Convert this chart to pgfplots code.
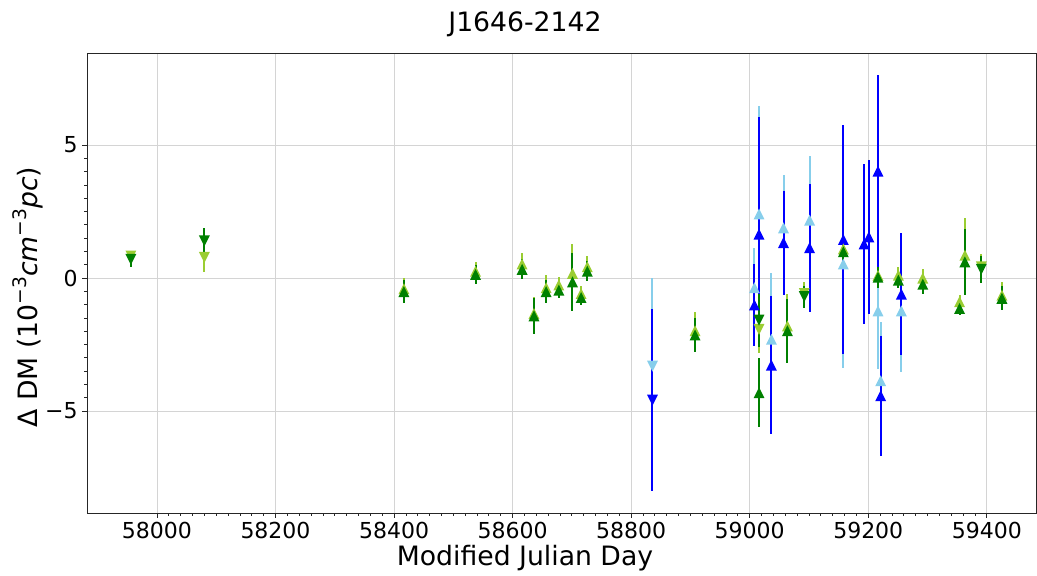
\documentclass[border=0pt]{standalone}
\usepackage{fontspec}
\setmainfont{DejaVu Sans}
\usepackage{pgfplots}
\pgfplotsset{compat=1.18}
\definecolor{mpgreen}{RGB}{0,128,0}
\definecolor{mpyg}{RGB}{154,205,50}
\definecolor{mpsky}{RGB}{135,206,235}
\definecolor{mpblue}{RGB}{0,0,255}
\pgfdeclareplotmark{tup}{%
  \pgfpathmoveto{\pgfpoint{0pt}{\pgfplotmarksize}}%
  \pgfpathlineto{\pgfpoint{-\pgfplotmarksize}{-\pgfplotmarksize}}%
  \pgfpathlineto{\pgfpoint{\pgfplotmarksize}{-\pgfplotmarksize}}%
  \pgfpathclose\pgfusepathqfill}
\pgfdeclareplotmark{tdown}{%
  \pgfpathmoveto{\pgfpoint{0pt}{-\pgfplotmarksize}}%
  \pgfpathlineto{\pgfpoint{-\pgfplotmarksize}{\pgfplotmarksize}}%
  \pgfpathlineto{\pgfpoint{\pgfplotmarksize}{\pgfplotmarksize}}%
  \pgfpathclose\pgfusepathqfill}
\pgfplotsset{ebar/.style={only marks, mark size=4.1pt,
  error bars/.cd, y dir=both, y explicit, error mark=none,
  error bar style={line width=1.5pt, solid}}}
\newcommand\sups[1]{\raisebox{0.8ex}{\fontsize{14}{14}\selectfont #1}}

\pgfplotstableread{
x y e
59008 -0.36 1.5
59015.7 2.41 4.06
59036.6 -2.3 2.5
59057 1.89 2.0
59101 2.18 2.4
59158 0.53 3.9
59216.4 -1.23 2.2
59221 -3.86 2.2
59255.8 -1.23 2.3
}\skyup
\pgfplotstableread{
x y e
58836 -3.31 3.3
}\skydown
\pgfplotstableread{
x y e
59008 -1.01 1.55
59015.7 1.65 4.4
59036.6 -3.27 2.6
59057 1.33 1.96
59101 1.14 2.4
59158 1.45 4.3
59192.8 1.28 3.0
59201 1.55 2.9
59216.4 4.02 3.6
59221 -4.42 2.25
59255.8 -0.6 2.3
}\blueup
\pgfplotstableread{
x y e
58836 -4.59 3.43
}\bluedown
\pgfplotstableread{
x y e
58416.6 -0.4 0.42
58537.5 0.26 0.36
58616 0.53 0.4
58636 -1.33 0.6
58656.6 -0.36 0.47
58678 -0.26 0.31
58701 0.18 1.1
58715.6 -0.58 0.3
58726 0.43 0.4
58907.8 -1.98 0.7
59063.6 -1.8 1.2
59158 1.1 0.3
59216.4 0.1 0.3
59250.8 0.11 0.3
59292 0.0 0.35
59354 -0.89 0.25
59363 0.86 1.4
59425.5 -0.64 0.5
}\ygup
\pgfplotstableread{
x y e
57956 0.83 0.2
58080 0.78 0.55
59015.7 -1.93 0.9
59092 -0.58 0.42
59390.8 0.42 0.5
}\ygdown
\pgfplotstableread{
x y e
58416.6 -0.51 0.42
58537.5 0.14 0.36
58616 0.33 0.38
58636 -1.42 0.67
58656.6 -0.51 0.44
58678 -0.45 0.3
58701 -0.14 1.08
58715.6 -0.73 0.3
58726 0.26 0.37
58907.8 -2.14 0.65
59015.7 -4.31 1.3
59063.6 -1.98 1.2
59158 0.99 0.3
59216.4 0.03 0.4
59250.8 -0.08 0.3
59292 -0.23 0.35
59354 -1.14 0.25
59363 0.61 1.25
59425.5 -0.76 0.45
}\grup
\pgfplotstableread{
x y e
57956 0.7 0.3
58080 1.4 0.47
59015.7 -1.58 1.0
59092 -0.7 0.42
59390.8 0.33 0.5
}\grdown

\begin{document}
\begin{tikzpicture}
\useasboundingbox (-65.25pt,-46.5pt) rectangle (712.5pt,384.75pt);
\begin{axis}[
  at={(0pt,0pt)}, anchor=south west,
  scale only axis, width=711.75pt, height=345pt,
  xmin=57882, xmax=59483, ymin=-8.83, ymax=8.46,
  xtick={58000,58200,58400,58600,58800,59000,59200,59400},
  xticklabels={58000,58200,58400,58600,58800,59000,59200,59400},
  ytick={-5,0,5}, yticklabels={−5,0,5},
  scaled ticks=false,
  minor x tick num=9, minor y tick num=9,
  tick align=outside, tick pos=left,
  major tick length=3.5pt, minor tick length=2pt,
  grid=major,
  major grid style={color=black!17, line width=0.6pt},
  minor grid style={draw=none},
  axis line style={line width=0.6pt, black!85},
  tick style={black!85, line width=0.6pt},
  ticklabel style={font=\fontsize{16.5}{18}\selectfont},
  /pgf/number format/assume math mode=true,
  clip=false,
]
\addplot[mpsky, mark=tup, ebar] table[x=x,y=y,y error=e] {\skyup};
\addplot[mpsky, mark=tdown, ebar] table[x=x,y=y,y error=e] {\skydown};
\addplot[mpblue, mark=tup, ebar] table[x=x,y=y,y error=e] {\blueup};
\addplot[mpblue, mark=tdown, ebar] table[x=x,y=y,y error=e] {\bluedown};
\addplot[mpyg, mark=tup, ebar] table[x=x,y=y,y error=e] {\ygup};
\addplot[mpyg, mark=tdown, ebar] table[x=x,y=y,y error=e] {\ygdown};
\addplot[mpgreen, mark=tup, ebar] table[x=x,y=y,y error=e] {\grup};
\addplot[mpgreen, mark=tdown, ebar] table[x=x,y=y,y error=e] {\grdown};
\end{axis}
\node[font=\fontsize{20}{24}\selectfont] at (328.5pt,366.75pt) {J1646-2142};
\node[font=\fontsize{20}{24}\selectfont] at (328.5pt,-33.75pt) {Modified Julian Day};
\node[font=\fontsize{20}{24}\selectfont, rotate=90] at (-44.25pt,162pt) {Δ DM (10\sups{−3}\textit{cm}\sups{−3}\textit{pc})};
\end{tikzpicture}
\end{document}
